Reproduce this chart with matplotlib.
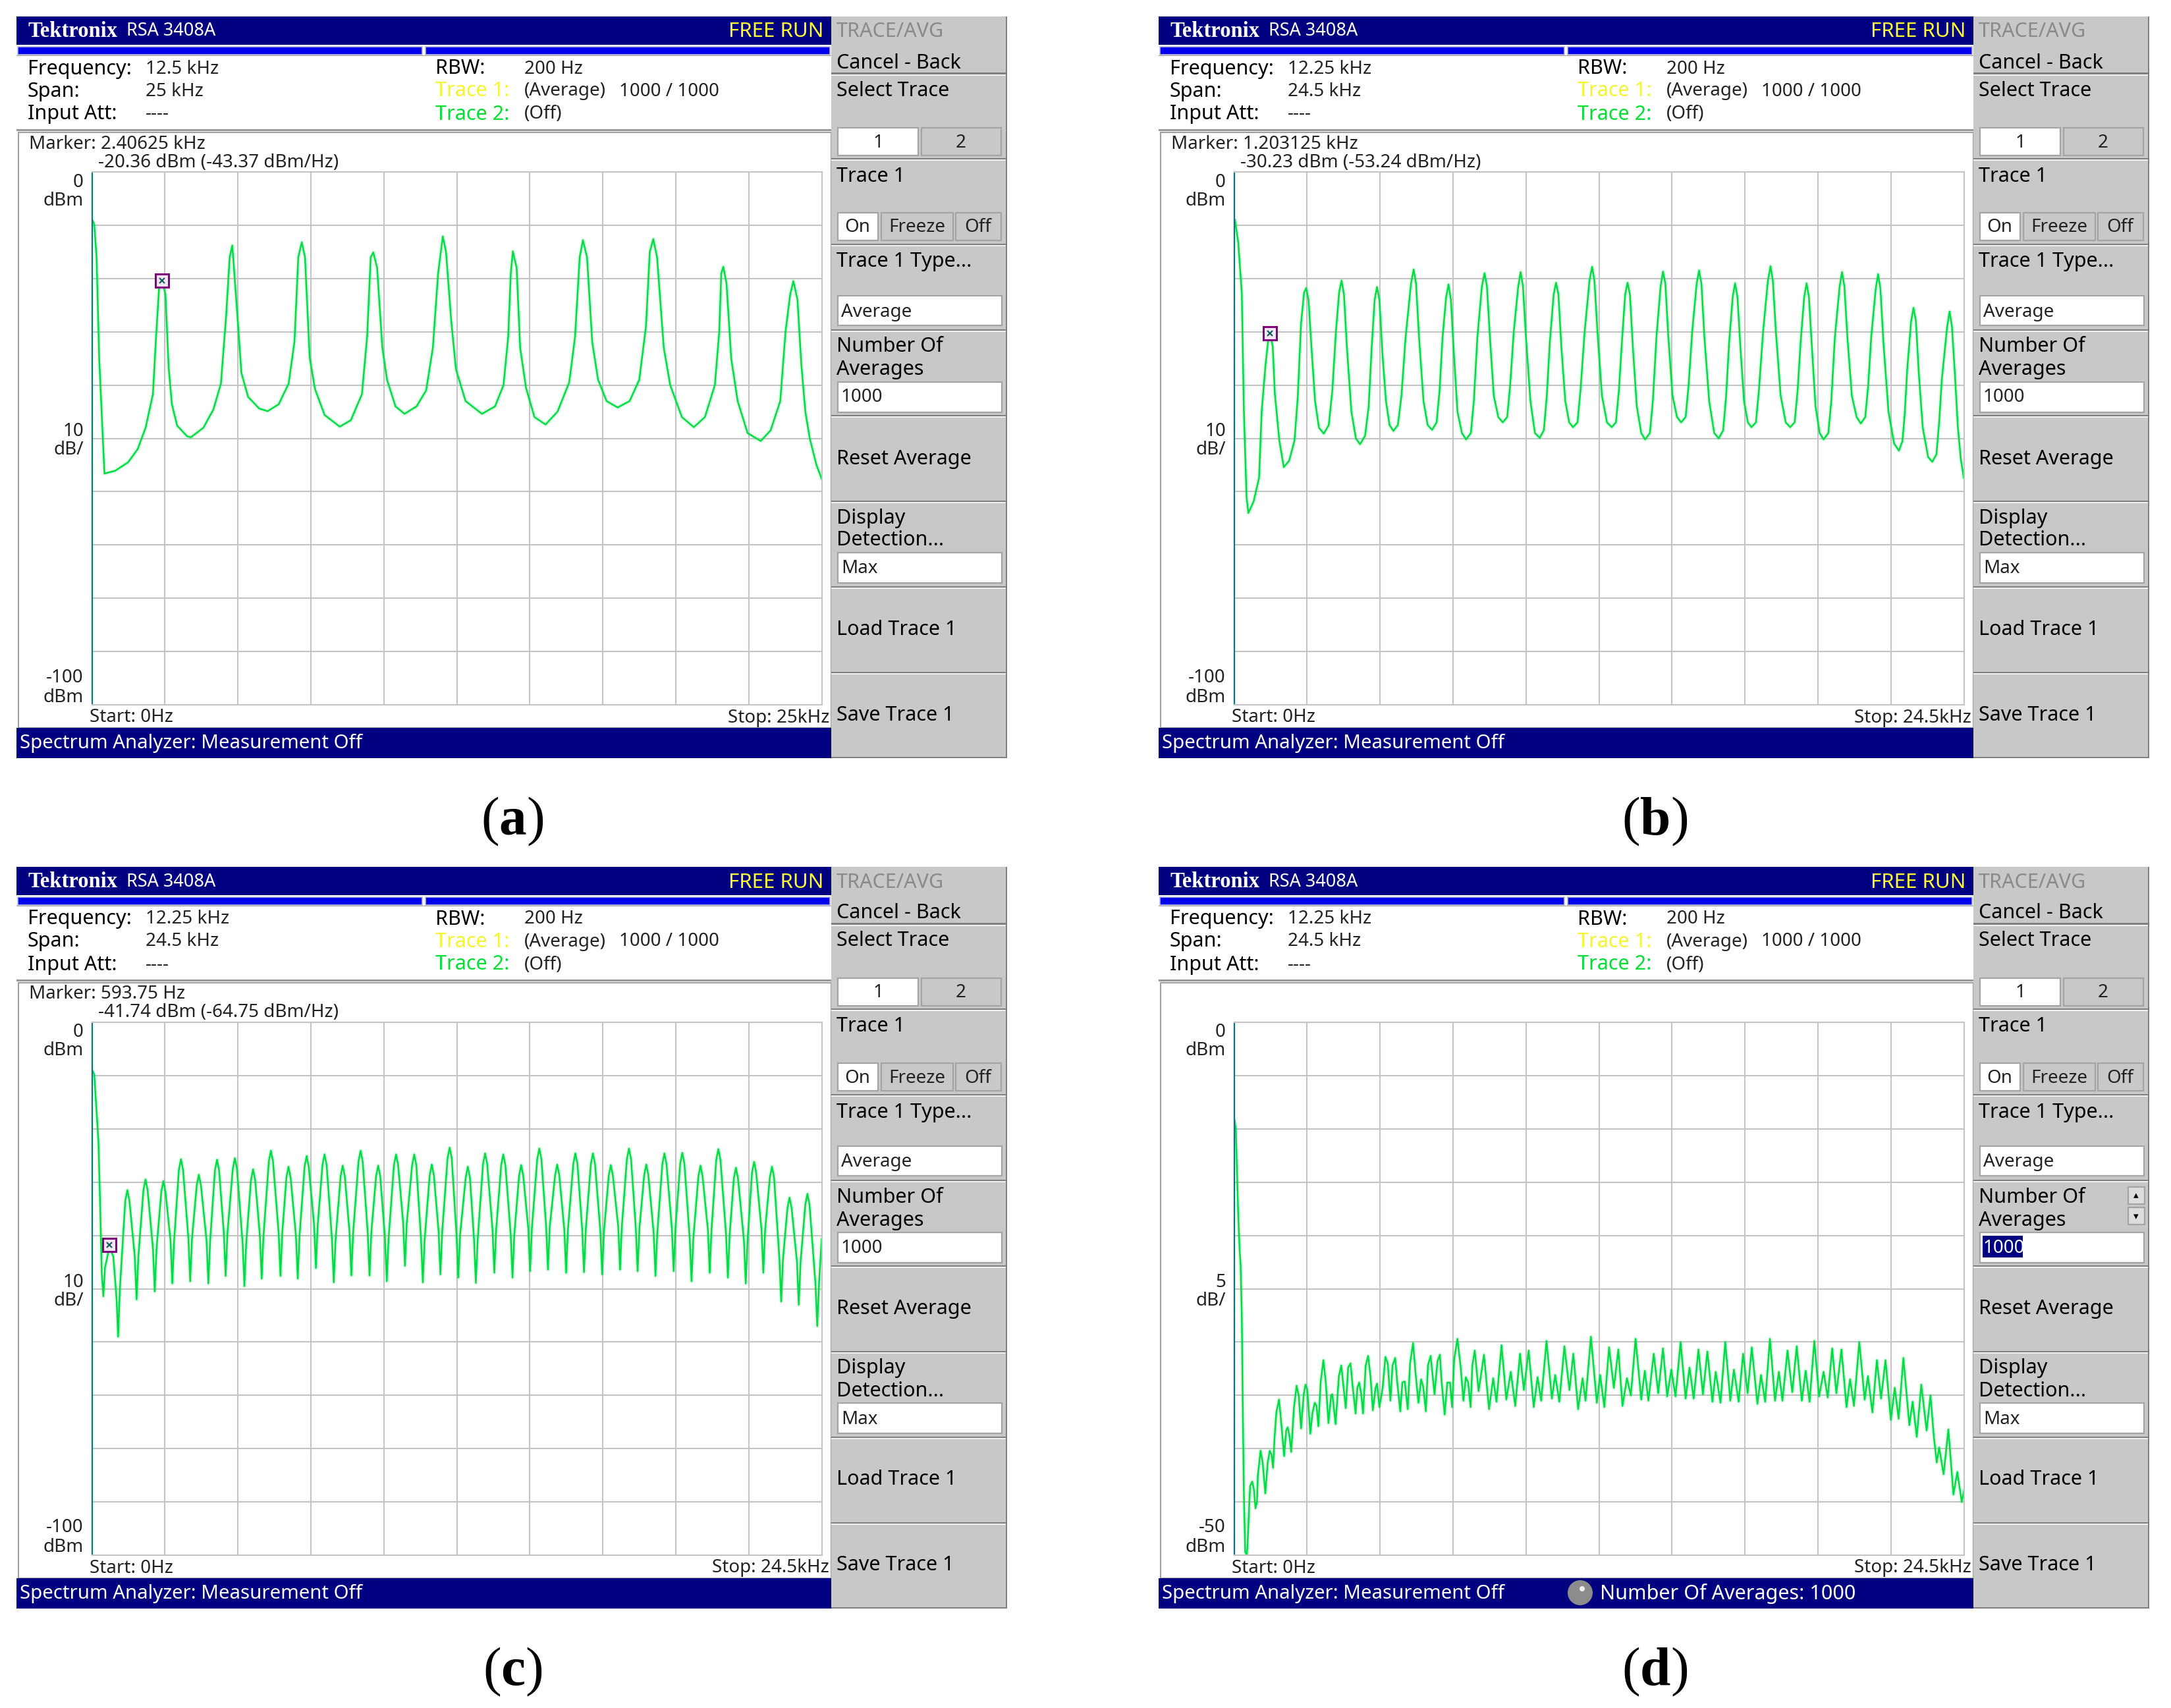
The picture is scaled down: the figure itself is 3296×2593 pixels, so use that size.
import matplotlib
matplotlib.use("Agg")
import matplotlib.pyplot as plt
from matplotlib.patches import Rectangle, Circle

plt.rcParams['font.family'] = ['Noto Sans', 'DejaVu Sans']
plt.rcParams['mathtext.fontset'] = 'custom'
plt.rcParams['mathtext.rm'] = 'Liberation Serif'
plt.rcParams['mathtext.bf'] = 'Liberation Serif:bold'

W, H = 3296, 2593

# trace (a), span 25 kHz
a_freq = [0.03, 0.08, 0.16, 0.25, 0.35, 0.43, 0.79, 1.24, 1.57, 1.84, 2.09, 2.20, 2.31, 2.41,
          2.52, 2.63, 2.74, 2.92, 3.26, 3.39, 3.82, 4.16, 4.42, 4.60, 4.72, 4.81,
          5.01, 5.12, 5.35, 5.73, 6.02, 6.40, 6.74, 6.94, 7.07, 7.19,
          7.30, 7.46, 7.64, 7.97, 8.49, 8.87, 9.25, 9.43, 9.55, 9.64,
          9.77, 9.95, 10.11, 10.40, 10.71, 11.12, 11.45, 11.68, 11.86, 12.02,
          12.13, 12.31, 12.47, 12.80, 13.36, 13.81, 14.10, 14.26, 14.35, 14.42,
          14.55, 14.67, 14.87, 15.16, 15.54, 15.95, 16.35, 16.55, 16.71, 16.82,
          16.96, 17.14, 17.34, 17.63, 18.01, 18.42, 18.75, 18.98, 19.11, 19.23,
          19.36, 19.59, 19.81, 20.21, 20.62, 21.00, 21.34, 21.49, 21.56, 21.63,
          21.74, 21.90, 22.12, 22.46, 22.91, 23.25, 23.58, 23.76, 23.92, 24.03,
          24.17, 24.30, 24.44, 24.59, 24.82, 25.0]
a_level = [-9.2, -9.8, -16, -35, -47, -56.6, -56.1, -54.5, -52, -48, -41.7, -30.8, -21, -20.4,
           -23, -36.7, -43.6, -47.6, -49.6, -49.8, -48, -44.6, -39.7, -26.9, -16, -13.8,
           -28.9, -37.7, -42.2, -44.4, -44.9, -43.6, -39.7, -31.8, -16, -13.2,
           -16, -34.8, -40.7, -45.6, -47.8, -46.6, -41.7, -30.8, -16, -15.1,
           -18, -33, -39, -44, -45.4, -44, -41, -33, -19, -12.1,
           -15, -28, -37, -43, -45.4, -44, -40, -31, -19, -14.9,
           -18, -33, -40.5, -46, -47.4, -45, -39.5, -31, -16, -12.8,
           -16, -32, -39, -43, -44.2, -43, -39, -29, -15, -12.6,
           -16, -33, -40, -46, -47.9, -46, -40, -30, -19, -17.8,
           -21, -35, -43, -49, -50.5, -48.5, -43, -30, -23, -20.5,
           -24, -36, -45, -50, -55, -57.6]

# trace (b), span 24.5 kHz
b_freq = [0.03, 0.14, 0.26, 0.33, 0.42, 0.48, 0.66, 0.84, 0.93, 1.06, 1.15, 1.21,
          1.30, 1.37, 1.52, 1.67, 1.85, 2.03, 2.14, 2.25, 2.35, 2.42,
          2.50, 2.60, 2.72, 2.85, 3.01, 3.18, 3.30, 3.42, 3.53, 3.61,
          3.69, 3.79, 3.94, 4.09, 4.23, 4.40, 4.52, 4.62, 4.72, 4.80,
          4.88, 4.98, 5.10, 5.22, 5.35, 5.50, 5.62, 5.76, 5.94, 6.03,
          6.11, 6.21, 6.36, 6.50, 6.65, 6.80, 6.90, 7.00, 7.12, 7.20,
          7.28, 7.38, 7.50, 7.65, 7.79, 7.95, 8.05, 8.17, 8.32, 8.41,
          8.49, 8.59, 8.72, 8.87, 9.02, 9.17, 9.27, 9.39, 9.54, 9.62,
          9.70, 9.80, 9.95, 10.10, 10.26, 10.40, 10.50, 10.60, 10.73, 10.81,
          10.89, 10.99, 11.12, 11.25, 11.38, 11.53, 11.63, 11.77, 11.93, 12.02,
          12.10, 12.20, 12.35, 12.52, 12.68, 12.82, 12.92, 13.02, 13.13, 13.21,
          13.29, 13.39, 13.52, 13.67, 13.80, 13.96, 14.06, 14.18, 14.32, 14.40,
          14.48, 14.58, 14.72, 14.87, 15.01, 15.16, 15.26, 15.38, 15.53, 15.61,
          15.69, 15.79, 15.95, 16.12, 16.27, 16.42, 16.52, 16.62, 16.74, 16.82,
          16.90, 17.00, 17.12, 17.25, 17.37, 17.52, 17.62, 17.76, 17.92, 18.01,
          18.09, 18.19, 18.35, 18.52, 18.67, 18.82, 18.92, 19.02, 19.14, 19.22,
          19.30, 19.40, 19.52, 19.66, 19.79, 19.95, 20.05, 20.17, 20.33, 20.41,
          20.49, 20.59, 20.74, 20.90, 21.04, 21.19, 21.29, 21.39, 21.54, 21.62,
          21.70, 21.80, 21.97, 22.16, 22.32, 22.44, 22.52, 22.60, 22.73, 22.81,
          22.89, 22.99, 23.12, 23.30, 23.44, 23.58, 23.67, 23.76, 23.94, 24.02,
          24.10, 24.20, 24.30, 24.40, 24.5]
b_level = [-9.0, -13.2, -22.7, -44.8, -61, -64, -61.8, -57.4, -44.8, -36, -31.5, -30.3,
           -32.8, -41.6, -50.4, -55.4, -54.2, -50.4, -42.2, -28.4, -22.7, -21.8,
           -24, -33, -43, -48, -49.1, -47.5, -41, -30, -22.5, -20.4,
           -23, -33, -45, -50, -51.1, -49.5, -44, -33, -24, -21.6,
           -24, -34, -43, -47.5, -48.6, -47.5, -42, -31, -21, -18.3,
           -21, -31, -43, -47.5, -48.4, -47, -41, -31, -23.5, -21.1,
           -24, -34, -45, -49, -50.2, -49, -43, -31, -21.5, -19.0,
           -21.5, -31, -42, -46, -47, -46, -40, -30, -21.5, -18.8,
           -21.5, -31, -43, -49, -49.9, -48.5, -42, -32, -23, -20.8,
           -23, -33, -43, -47, -47.9, -47, -41, -30, -20.5, -17.8,
           -20.5, -30, -42, -47, -47.9, -47, -41, -32, -23, -20.8,
           -23, -33, -44, -49, -50.2, -49, -43, -31, -21.5, -18.7,
           -21, -31, -42, -46, -47, -46, -40, -30, -21, -18.5,
           -21, -31, -43, -49, -50, -48.5, -42, -32, -23.5, -20.9,
           -23.5, -33, -43, -47, -47.9, -47, -41, -30, -20.5, -17.7,
           -20.5, -30, -42, -47, -47.9, -47, -41, -32, -23.5, -20.9,
           -23.5, -33, -44, -49, -50.2, -49, -43, -31, -21.5, -18.8,
           -21.5, -31, -42, -46, -47.2, -46, -40, -31, -22, -19.2,
           -22, -32, -45, -51, -52.3, -50.5, -45, -37, -28, -25.5,
           -28, -38, -48, -53.5, -54.4, -53, -47, -39, -29, -26.2,
           -29, -38, -48, -54, -57.4]

# trace (c), span 24.5 kHz
c_freq = [0.02, 0.08, 0.15, 0.22, 0.28, 0.33, 0.385,
          0.44, 0.50, 0.59, 0.72, 0.83, 0.88, 0.94,
          1.12, 1.19, 1.26, 1.44, 1.50, 1.56, 1.73, 1.80, 1.87, 2.05, 2.11, 2.17,
          2.33, 2.40, 2.47, 2.64, 2.70, 2.76, 2.92, 2.99, 3.06, 3.24, 3.30, 3.36,
          3.52, 3.59, 3.66, 3.85, 3.91, 3.97, 4.13, 4.20, 4.27, 4.43, 4.49, 4.55,
          4.73, 4.80, 4.87, 5.06, 5.12, 5.18, 5.34, 5.41, 5.48, 5.64, 5.70, 5.76,
          5.94, 6.01, 6.08, 6.27, 6.33, 6.39, 6.53, 6.60, 6.67, 6.85, 6.91, 6.97,
          7.14, 7.21, 7.28, 7.46, 7.52, 7.58, 7.74, 7.81, 7.88, 8.06, 8.12, 8.18,
          8.35, 8.42, 8.49, 8.65, 8.71, 8.77, 8.95, 9.02, 9.09, 9.26, 9.32, 9.38,
          9.54, 9.61, 9.68, 9.84, 9.90, 9.96, 10.14, 10.21, 10.28, 10.45, 10.51, 10.57,
          10.75, 10.82, 10.89, 11.05, 11.11, 11.17, 11.34, 11.41, 11.48, 11.64, 11.70, 11.76,
          11.94, 12.01, 12.08, 12.24, 12.30, 12.36, 12.55, 12.62, 12.69, 12.83, 12.89, 12.95,
          13.13, 13.20, 13.27, 13.45, 13.51, 13.57, 13.74, 13.81, 13.88, 14.06, 14.12, 14.18,
          14.34, 14.41, 14.48, 14.65, 14.71, 14.77, 14.95, 15.02, 15.09, 15.25, 15.31, 15.37,
          15.55, 15.62, 15.69, 15.86, 15.92, 15.98, 16.16, 16.23, 16.30, 16.46, 16.52, 16.58,
          16.75, 16.82, 16.89, 17.07, 17.13, 17.19, 17.35, 17.42, 17.49, 17.67, 17.73, 17.79,
          17.96, 18.03, 18.10, 18.26, 18.32, 18.38, 18.54, 18.61, 18.68, 18.86, 18.92, 18.98,
          19.15, 19.22, 19.29, 19.47, 19.53, 19.59, 19.75, 19.82, 19.89, 20.07, 20.13, 20.19,
          20.36, 20.43, 20.50, 20.68, 20.74, 20.80, 20.96, 21.03, 21.10, 21.29, 21.35, 21.41,
          21.55, 21.62, 21.69, 21.89, 21.95, 22.01, 22.16, 22.23, 22.30, 22.48, 22.54, 22.60,
          22.76, 22.83, 22.90, 23.08, 23.14, 23.20, 23.35, 23.42, 23.49, 23.67, 23.73, 23.79,
          23.95, 24.02, 24.09, 24.29, 24.35, 24.41, 24.5]
c_level = [-9.1, -9.8, -16, -22.4, -35, -47, -51.4,
           -46, -44.5, -42, -44, -52, -59, -50,
           -33.5, -31.5, -33.5, -44, -52, -44, -31.5, -29.5, -31.5, -42.5, -50.5, -42.5,
           -31.8, -29.8, -31.8, -41, -49, -41, -27.7, -25.7, -27.7, -40.6, -48.6, -40.6,
           -30.6, -28.6, -30.6, -41, -49, -41, -27.8, -25.8, -27.8, -39.6, -47.6, -39.6,
           -27.5, -25.5, -27.5, -41.5, -49.5, -41.5, -29.6, -27.6, -29.6, -40.1, -48.1, -40.1,
           -26.1, -24.1, -26.1, -39.6, -47.6, -39.6, -29.1, -27.1, -29.1, -40.1, -48.1, -40.1,
           -27.1, -25.1, -27.1, -38.1, -46.1, -38.1, -26.8, -24.8, -26.8, -40.8, -48.8, -40.8,
           -28.9, -26.9, -28.9, -39.5, -47.5, -39.5, -26.1, -24.1, -26.1, -39.5, -47.5, -39.5,
           -28.9, -26.9, -28.9, -40.6, -48.6, -40.6, -26.8, -24.8, -26.8, -37.7, -45.7, -37.7,
           -26.8, -24.8, -26.8, -40.8, -48.8, -40.8, -28.7, -26.7, -28.7, -39.3, -47.3, -39.3,
           -25.5, -23.5, -25.5, -39.9, -47.9, -39.9, -29.1, -27.1, -29.1, -40.9, -48.9, -40.9,
           -26.6, -24.6, -26.6, -39, -47, -39, -26.8, -24.8, -26.8, -39.9, -47.9, -39.9,
           -28.8, -26.8, -28.8, -38.7, -46.7, -38.7, -25.7, -23.7, -25.7, -38.4, -46.4, -38.4,
           -28.7, -26.7, -28.7, -39, -47, -39, -26.6, -24.6, -26.6, -38.9, -46.9, -38.9,
           -26.6, -24.6, -26.6, -39.3, -47.3, -39.3, -28.8, -26.8, -28.8, -38.4, -46.4, -38.4,
           -25.7, -23.7, -25.7, -38.7, -46.7, -38.7, -28.7, -26.7, -28.7, -39.6, -47.6, -39.6,
           -26.6, -24.6, -26.6, -38.7, -46.7, -38.7, -26.5, -24.5, -26.5, -40.6, -48.6, -40.6,
           -28.9, -26.9, -28.9, -39, -47, -39, -25.8, -23.8, -25.8, -39.9, -47.9, -39.9,
           -29.3, -27.3, -29.3, -41, -49, -41, -28.2, -26.2, -28.2, -39, -47, -39,
           -29.1, -27.1, -29.1, -44.4, -52.4, -44.4, -34.9, -32.9, -34.9, -45, -53, -45,
           -34.2, -32.2, -34.2, -49, -57, -49, -40.7]

# trace (d), span 24.5 kHz, 5 dB/div
d_freq = [0.02, 0.06, 0.10, 0.14, 0.19, 0.22, 0.26, 0.29, 0.33, 0.375, 0.43, 0.46, 0.51, 0.54, 0.61,
          0.67, 0.72, 0.77, 0.80, 0.89, 0.96, 1.05, 1.13, 1.20, 1.26, 1.31, 1.36, 1.42, 1.51, 1.57,
          1.68, 1.75, 1.80, 1.86, 1.92, 2.01, 2.10, 2.17, 2.25, 2.34, 2.40, 2.46, 2.56, 2.63, 2.71,
          2.77, 2.83, 2.91, 3.00, 3.08, 3.17, 3.26, 3.30, 3.41, 3.52, 3.60, 3.66, 3.75, 3.83, 3.91,
          3.98, 4.08, 4.14, 4.20, 4.27, 4.33, 4.42, 4.50, 4.58, 4.66, 4.75, 4.80, 4.88, 4.99, 5.08,
          5.16, 5.25, 5.32, 5.41, 5.48, 5.58, 5.65, 5.73, 5.83, 5.91, 6.01, 6.09, 6.19, 6.28, 6.35,
          6.44, 6.51, 6.60, 6.73, 6.83, 6.91, 6.97, 7.07, 7.16, 7.25, 7.32, 7.39, 7.50, 7.61, 7.70,
          7.78, 7.86, 7.94, 8.00, 8.08, 8.21, 8.39, 8.56, 8.70, 8.81, 8.98, 9.14, 9.29, 9.44, 9.60,
          9.73, 9.89, 10.06, 10.19, 10.31, 10.49, 10.67, 10.78, 10.92, 11.09, 11.26, 11.39, 11.55,
          11.70, 11.80, 11.98, 12.18, 12.29, 12.43, 12.59, 12.75, 12.90, 13.04, 13.19, 13.32, 13.48,
          13.67, 13.79, 13.91, 14.09, 14.24, 14.40, 14.54, 14.68, 14.82, 14.99, 15.16, 15.29, 15.43,
          15.59, 15.74, 15.89, 16.06, 16.17, 16.33, 16.49, 16.66, 16.78, 16.94, 17.09, 17.24, 17.38,
          17.57, 17.69, 17.83, 17.99, 18.16, 18.29, 18.41, 18.58, 18.74, 18.89, 19.06, 19.19, 19.32,
          19.48, 19.64, 19.79, 19.93, 20.08, 20.22, 20.39, 20.56, 20.68, 20.81, 20.99, 21.17, 21.28,
          21.43, 21.58, 21.72, 21.87, 22.05, 22.18, 22.31, 22.47, 22.67, 22.78, 22.92, 23.07, 23.25,
          23.38, 23.49, 23.59, 23.67, 23.82, 23.98, 24.15, 24.28, 24.43, 24.5]
d_level = [-9.2, -10, -14, -18, -21.5, -22.7, -27.4, -35.3, -44.2, -49.7, -50, -48.6, -45.3, -43.5, -43.1,
           -43.9, -45.6, -45, -42.5, -40.2, -41.3, -44.2, -41.3, -40.2, -40.6, -41.8, -39, -36.6, -35.4, -37.1,
           -40.7, -38.3, -38, -38.8, -40.3, -36.2, -34.1, -35, -38.1, -34.9, -34, -34.5, -38.6, -36.7, -35.7,
           -36, -37.9, -33.7, -31.7, -33.8, -37.6, -35, -34.9, -37.7, -33.2, -32.2, -33.8, -36.2, -32.4, -32,
           -34.1, -36.7, -34.3, -33.8, -34.9, -36.7, -32.2, -31.3, -33.2, -36.4, -34.3, -33.9, -36.1, -34.3, -31.4,
           -32, -35.5, -32.2, -31.5, -33.8, -36.5, -33.8, -33.7, -36.3, -32, -30.1, -32.8, -35.7, -33.5, -34.2,
           -36.5, -32.2, -31.3, -34.9, -31.8, -31.2, -33.8, -36.8, -33.8, -33.8, -36.1, -31.6, -29.7, -32.4, -35.5,
           -33.3, -33.8, -36.1, -32.2, -30.8, -34.6, -31.2, -36.3, -33.4, -35.6, -30.3, -35.4, -32.8, -36, -31.1,
           -34.5, -30.8, -36.1, -33.3, -35.5, -29.9, -35.3, -33.1, -35.6, -30.4, -34.5, -31.1, -36.3,
           -33.4, -35.5, -29.5, -35.7, -33.1, -36.1, -30.5, -34.3, -30.7, -36, -33.4, -35, -29.7,
           -35.4, -32.7, -35.5, -31.1, -34.8, -30.6, -35.1, -32.6, -35.1, -30, -35.3, -32.4, -35.3,
           -30.7, -34.9, -30.9, -35.6, -32.8, -35.7, -30, -35.5, -32.6, -35.6, -31.1, -34.8, -30.5,
           -35.8, -33.1, -35.6, -29.7, -35.5, -32.8, -35.5, -30.8, -34.7, -30.4, -35.5, -32.7, -35.6,
           -29.9, -35.1, -32.8, -35.2, -30.6, -34.8, -30.7, -36.1, -33.5, -36, -30, -35.4, -33.2,
           -36.6, -31.7, -35.3, -31.7, -37.3, -34.3, -37.2, -31.5, -37.8, -35.6, -38.9, -34, -38.3,
           -35, -38.8, -41.3, -39.9, -42.4, -38.2, -44.3, -42.2, -45, -44]

spans = [25.0, 24.5, 24.5, 24.5]
bottoms = [-100, -100, -100, -50]
center_labels = ['12.5 kHz', '12.25 kHz', '12.25 kHz', '12.25 kHz']
span_labels = ['25 kHz', '24.5 kHz', '24.5 kHz', '24.5 kHz']
stop_labels = ['Stop: 25kHz', 'Stop: 24.5kHz', 'Stop: 24.5kHz', 'Stop: 24.5kHz']
scale_labels = ['10', '10', '10', '5']
marker_freq = [2.40625, 1.203125, 0.59375, None]
marker_level = [-20.36, -30.23, -41.74, None]
marker_line1 = ['Marker: 2.40625 kHz', 'Marker: 1.203125 kHz', 'Marker: 593.75 Hz', None]
marker_line2 = ['-20.36 dBm (-43.37 dBm/Hz)', '-30.23 dBm (-53.24 dBm/Hz)', '-41.74 dBm (-64.75 dBm/Hz)', None]
captions = ['a', 'b', 'c', 'd']
origins = [(0, 0), (1734, 0), (0, 1291), (1734, 1291)]
traces = [(a_freq, a_level), (b_freq, b_level), (c_freq, c_level), (d_freq, d_level)]

NAVY = '#000080'
GRAY = '#c8c8c8'
DARK = '#222222'
FS = 20
MENU_FS = 22


def box(ax, x0, y0, x1, y1, fc, ec='none', lw=0, z=1):
    ax.add_patch(Rectangle((x0, y0), x1 - x0, y1 - y0, facecolor=fc, edgecolor=ec, linewidth=lw, zorder=z))


def label(ax, x, y, s, color='black', size=FS, ha='left', **kw):
    ax.text(x, y + 1.5, s, color=color, fontsize=size, ha=ha, va='center', zorder=5, **kw)


def sunken(ax, x0, y0, x1, y1, fc):
    box(ax, x0, y0, x1, y1, fc, ec='#a4a4a4', lw=1.6, z=2)


def draw_chrome(ax, i):
    ox, oy = origins[i]

    # header and status bars
    box(ax, ox + 25, oy + 25, ox + 1262, oy + 68, NAVY)
    label(ax, ox + 42, oy + 46, 'Tektronix', color='white', size=23.5, family='Liberation Serif', weight='bold')
    label(ax, ox + 192, oy + 46, 'RSA 3408A', color='white', size=19.5)
    label(ax, ox + 1250, oy + 47, 'FREE RUN', color='#ffff33', size=22.5, ha='right')
    box(ax, ox + 27, oy + 71, ox + 641, oy + 83, '#0000ee', ec='#b8b8d8', lw=1.2)
    box(ax, ox + 646, oy + 71, ox + 1260, oy + 83, '#0000ee', ec='#b8b8d8', lw=1.2)
    box(ax, ox + 25, oy + 83.5, ox + 1262, oy + 85, '#a0a0a0')
    box(ax, ox + 25, oy + 196, ox + 1262, oy + 198.5, '#999999')
    box(ax, ox + 28, oy + 201, ox + 1262, oy + 1105, 'white', ec='#a0a0a0', lw=1.5)
    box(ax, ox + 25, oy + 1104.5, ox + 1262, oy + 1151, NAVY, z=3)
    label(ax, ox + 30, oy + 1127, 'Spectrum Analyzer: Measurement Off', color='white', size=21.2)

    # readout block
    rows = [oy + 103, oy + 137, oy + 172]
    label(ax, ox + 42, rows[0], 'Frequency:', size=MENU_FS)
    label(ax, ox + 221, rows[0], center_labels[i], color=DARK)
    label(ax, ox + 42, rows[1], 'Span:', size=MENU_FS)
    label(ax, ox + 221, rows[1], span_labels[i], color=DARK)
    label(ax, ox + 42, rows[2], 'Input Att:', size=MENU_FS)
    label(ax, ox + 221, rows[2], '----', color=DARK)
    label(ax, ox + 661, rows[0], 'RBW:', size=MENU_FS)
    label(ax, ox + 796, rows[0], '200 Hz', color=DARK)
    label(ax, ox + 661, rows[1], 'Trace 1:', color='#f4f430', size=MENU_FS)
    label(ax, ox + 796, rows[1], '(Average)', color=DARK)
    label(ax, ox + 940, rows[1], '1000 / 1000', color=DARK)
    label(ax, ox + 661, rows[2], 'Trace 2:', color='#00dd33', size=MENU_FS)
    label(ax, ox + 796, rows[2], '(Off)', color=DARK)

    if marker_line1[i]:
        label(ax, ox + 44, oy + 217, marker_line1[i], color=DARK)
        label(ax, ox + 149, oy + 245, marker_line2[i], color=DARK)

    # scale labels
    label(ax, ox + 127, oy + 275, '0', color=DARK, ha='right')
    label(ax, ox + 127, oy + 303, 'dBm', color=DARK, ha='right')
    label(ax, ox + 127, oy + 654, scale_labels[i], color=DARK, ha='right')
    label(ax, ox + 127, oy + 682, 'dB/', color=DARK, ha='right')
    label(ax, ox + 127, oy + 1027, str(bottoms[i]), color=DARK, ha='right')
    label(ax, ox + 127, oy + 1057, 'dBm', color=DARK, ha='right')
    label(ax, ox + 136, oy + 1088, 'Start: 0Hz', color=DARK)
    label(ax, ox + 1259, oy + 1088, stop_labels[i], color=DARK, ha='right')

    # side menu
    box(ax, ox + 1262, oy + 25, ox + 1529, oy + 1151, GRAY)
    for y in [112, 241.6, 371.6, 501.6, 631.6, 761.6, 891.5, 1021.5]:
        box(ax, ox + 1262, oy + y - 2, ox + 1529, oy + y + 0.5, '#808080', z=2)
        box(ax, ox + 1262, oy + y + 0.5, ox + 1529, oy + y + 2.5, '#f0f0f0', z=2)
    box(ax, ox + 1262, oy + 1149, ox + 1529, oy + 1151, '#808080', z=2)
    box(ax, ox + 1527, oy + 25, ox + 1529, oy + 1151, '#808080', z=2)

    menu_x = ox + 1270
    label(ax, menu_x, oy + 47, 'TRACE/AVG', color='#8a8a8a', size=MENU_FS)
    for y, s in [(94, 'Cancel - Back'), (136, 'Select Trace'), (266, 'Trace 1'), (396, 'Trace 1 Type...'),
                 (525, 'Number Of'), (560, 'Averages'), (695, 'Reset Average'), (785, 'Display'),
                 (819, 'Detection...'), (954, 'Load Trace 1'), (1084, 'Save Trace 1')]:
        label(ax, menu_x, oy + y, s, size=MENU_FS)

    sunken(ax, ox + 1272, oy + 194, ox + 1394, oy + 236, 'white')
    sunken(ax, ox + 1399, oy + 194, ox + 1520, oy + 236, GRAY)
    label(ax, ox + 1333, oy + 215, '1', ha='center', color=DARK)
    label(ax, ox + 1459, oy + 215, '2', ha='center', color=DARK)
    sunken(ax, ox + 1272, oy + 323, ox + 1333, oy + 365, 'white')
    sunken(ax, ox + 1338, oy + 323, ox + 1447, oy + 365, GRAY)
    sunken(ax, ox + 1451, oy + 323, ox + 1520, oy + 365, GRAY)
    label(ax, ox + 1302, oy + 344, 'On', ha='center', color=DARK)
    label(ax, ox + 1392, oy + 344, 'Freeze', ha='center', color=DARK)
    label(ax, ox + 1485, oy + 344, 'Off', ha='center', color=DARK)
    sunken(ax, ox + 1272, oy + 449, ox + 1521, oy + 494, 'white')
    label(ax, ox + 1277, oy + 472, 'Average', color=DARK)
    sunken(ax, ox + 1272, oy + 580, ox + 1521, oy + 626, 'white')
    sunken(ax, ox + 1272, oy + 839, ox + 1521, oy + 885, 'white')
    label(ax, ox + 1277, oy + 862, 'Max', color=DARK)

    if i == 3:
        # spinner, selected entry and the knob message
        box(ax, ox + 1276, oy + 585, ox + 1337, oy + 618, NAVY, z=3)
        label(ax, ox + 1277, oy + 602, '1000', color='white')
        sunken(ax, ox + 1497, oy + 511, ox + 1522, oy + 537, '#dddddd')
        sunken(ax, ox + 1497, oy + 542, ox + 1522, oy + 568, '#dddddd')
        label(ax, ox + 1509, oy + 523, '\u25b4', ha='center', size=11)
        label(ax, ox + 1509, oy + 555, '\u25be', ha='center', size=11)
        ax.add_patch(Circle((ox + 665, oy + 1127), 19, facecolor='#8c8c8c', edgecolor='none', zorder=4))
        ax.add_patch(Circle((ox + 668, oy + 1121), 4, facecolor='#eeeeee', edgecolor='none', zorder=5))
        label(ax, ox + 695, oy + 1127, 'Number Of Averages: 1000', color='white', size=22)
    else:
        label(ax, ox + 1277, oy + 602, '1000', color=DARK)

    # caption
    ax.text(ox + 778, oy + 1245, r'$\mathrm{(}\mathbf{%s}\mathrm{)}$' % captions[i], fontsize=60,
            ha='center', va='center', color='black', zorder=5)


def draw_trace(fig, i):
    ox, oy = origins[i]
    left, right = ox + 139.5, ox + 1247.5
    top, bottom = oy + 261, oy + 1070
    ax = fig.add_axes([left / W, 1 - bottom / H, (right - left) / W, (bottom - top) / H], zorder=3)
    ax.patch.set_alpha(0)
    ax.set_xlim(0, spans[i])
    ax.set_ylim(bottoms[i], 0)
    ax.set_xticks([spans[i] * k / 10 for k in range(1, 10)])
    ax.set_yticks([bottoms[i] * k / 10 for k in range(1, 10)])
    ax.tick_params(length=0, labelbottom=False, labelleft=False)
    ax.grid(True, color='#c4c4c4', linewidth=1.5)
    ax.set_axisbelow(True)
    for side in ['top', 'right', 'bottom']:
        ax.spines[side].set_color('#c4c4c4')
        ax.spines[side].set_linewidth(1.5)
    ax.spines['left'].set_color('#007a80')
    ax.spines['left'].set_linewidth(1.6)

    freq, level = traces[i]
    ax.plot(freq, level, color='#00dd44', linewidth=4.5, alpha=0.15)
    ax.plot(freq, level, color='#00dd44', linewidth=1.8)
    if marker_freq[i] is not None:
        ax.plot([marker_freq[i]], [marker_level[i]], marker='s', markersize=15, markerfacecolor='#f4e6f4',
                markeredgecolor='#800080', markeredgewidth=2.2, linestyle='none')
        ax.plot([marker_freq[i]], [marker_level[i]], marker='x', markersize=6, color='#106060',
                markeredgewidth=1.6, linestyle='none')


fig = plt.figure(figsize=(W / 100, H / 100), dpi=100)
chrome = fig.add_axes([0, 0, 1, 1], zorder=1)
chrome.set_xlim(0, W)
chrome.set_ylim(H, 0)
chrome.axis('off')

for i in range(4):
    draw_chrome(chrome, i)
    draw_trace(fig, i)

fig.savefig('out.png', dpi=100)
